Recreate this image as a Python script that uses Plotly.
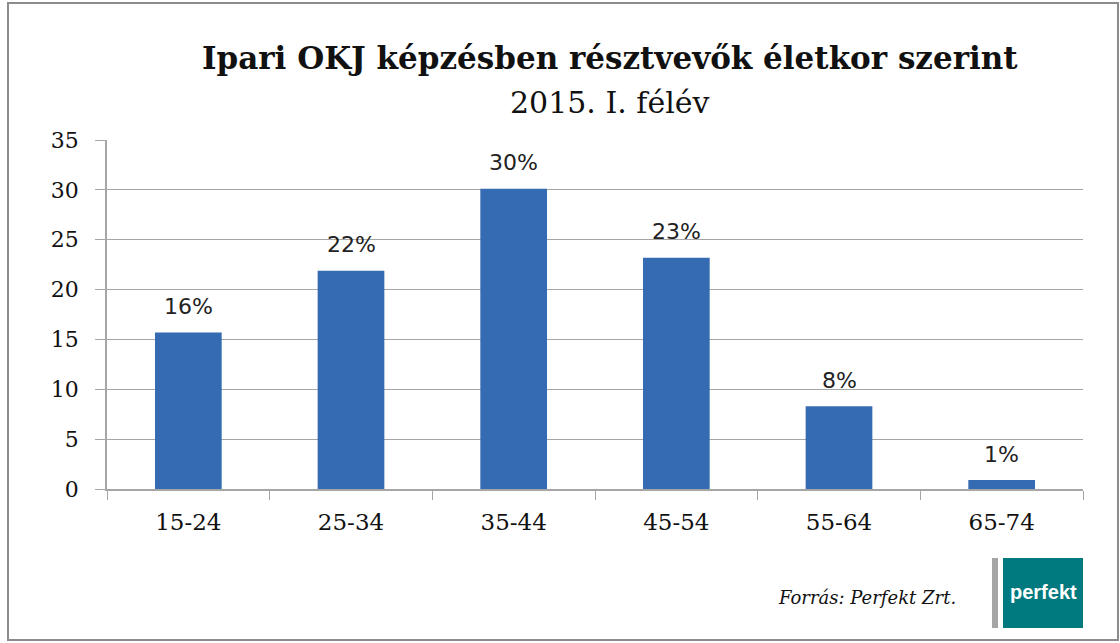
import plotly.graph_objects as go

categories = ["15-24", "25-34", "35-44", "45-54", "55-64", "65-74"]
values = [15.7, 21.9, 30.1, 23.2, 8.3, 0.9]
labels = ["16%", "22%", "30%", "23%", "8%", "1%"]
y_ticks = [0, 5, 10, 15, 20, 25, 30, 35]

W, H = 1120, 643
L, R, T, B = 107, 37, 140, 154
SERIF = "DejaVu Serif"

fig = go.Figure()
fig.add_trace(go.Bar(
    x=categories, y=values,
    marker=dict(color="#356bb3", line=dict(width=0)),
    width=0.41,
))

for c, v, t in zip(categories, values, labels):
    fig.add_annotation(x=c, y=v, text=t, showarrow=False, yanchor="middle",
                       yshift=26, font=dict(family="DejaVu Sans", size=22, color="#222222"))

fig.update_layout(
    width=W, height=H, margin=dict(l=L, r=R, t=T, b=B),
    paper_bgcolor="white", plot_bgcolor="white", showlegend=False,
    font=dict(family=SERIF, color="#111111"),
    xaxis=dict(showline=True, linecolor="#a6a6a6", linewidth=1.5,
               ticks="outside", tickson="boundaries", ticklen=9, tickcolor="#a6a6a6",
               tickfont=dict(family=SERIF, size=23, color="#111111"),
               ticklabelstandoff=12, showgrid=False),
    yaxis=dict(range=[0, 35], tickvals=y_ticks, showline=True, linecolor="#a6a6a6",
               linewidth=1.5, ticks="outside", ticklen=10, tickcolor="#a6a6a6",
               showgrid=True, gridcolor="#a6a6a6", gridwidth=1.2, zeroline=False,
               ticklabelstandoff=12,
               tickfont=dict(family=SERIF, size=22, color="#111111")),
)

# Title
fig.add_annotation(text="<b>Ipari OKJ képzésben résztvevők életkor szerint</b>",
                   xref="paper", yref="paper", x=0.5, y=1, xshift=15,
                   yanchor="middle", xanchor="center", yshift=82, showarrow=False,
                   font=dict(family=SERIF, size=31, color="#111111"))
fig.add_annotation(text="2015. I. félév",
                   xref="paper", yref="paper", x=0.5, y=1, xshift=15,
                   yanchor="middle", xanchor="center", yshift=38, showarrow=False,
                   font=dict(family=SERIF, size=30, color="#111111"))

def px(xp):
    return (xp - L) / (W - L - R)
def py(yp):
    return ((H - B) - yp) / (H - T - B)

# Source
fig.add_annotation(text="<i>Forrás: Perfekt Zrt.</i>", xref="paper", yref="paper",
                   x=px(958), y=py(597), xanchor="right", yanchor="middle", showarrow=False,
                   font=dict(family=SERIF, size=18, color="#111111"))

# Logo
fig.add_shape(type="rect", xref="paper", yref="paper", x0=px(992), x1=px(998),
              y0=py(628), y1=py(558), fillcolor="#a5a5a5", line=dict(width=0))
fig.add_shape(type="rect", xref="paper", yref="paper", x0=px(1003), x1=px(1083),
              y0=py(628), y1=py(558), fillcolor="#007a7e", line=dict(width=0))
fig.add_annotation(text="<b>perfekt</b>", xref="paper", yref="paper",
                   x=px(1043), y=py(592), xanchor="center", yanchor="middle",
                   showarrow=False, font=dict(family="Liberation Sans", size=20, color="white"))

# Outer frame
fig.add_shape(type="rect", xref="paper", yref="paper", x0=px(8), x1=px(1118),
              y0=py(640), y1=py(3), fillcolor="rgba(0,0,0,0)",
              line=dict(color="#8c8c8c", width=2))

fig.write_html("out.html")
